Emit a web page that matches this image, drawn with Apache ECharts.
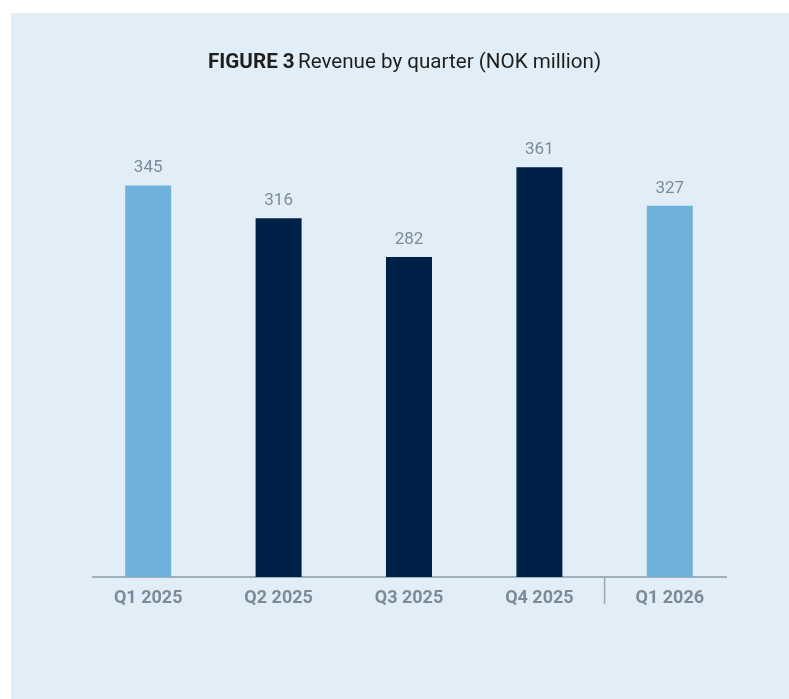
<!DOCTYPE html>
<html><head><meta charset="utf-8">
<script src="https://cdn.jsdelivr.net/npm/echarts@6/dist/echarts.min.js"></script>
<style>html,body{margin:0;padding:0;background:#fff;}#c{width:789px;height:699px;}</style>
</head><body><div id="c"></div>
<script>
const categories = ['Q1 2025', 'Q2 2025', 'Q3 2025', 'Q4 2025', 'Q1 2026'];
const revenue = [345, 316, 282, 361, 327];

const LIGHT = '#6EB2DC', DARK = '#002147', GREY = '#7B8C98';
const chart = echarts.init(document.getElementById('c'), null, {renderer: 'canvas'});
const baseGraphics = [
  {type: 'rect', z: -10, shape: {x: 11, y: 13, width: 789, height: 700}, style: {fill: '#E1EEF7'}},
  {type: 'text', left: 208, top: 52, style: {
    rich: {b: {fontWeight: 'bold', fontSize: 20.6, fill: '#1e1e1e', fontFamily: 'Roboto'},
           n: {fontSize: 20.6, fill: '#1e1e1e', fontFamily: 'Roboto'}},
    text: '{b|FIGURE 3} {n|Revenue by quarter (NOK million)}'}}
];
chart.setOption({
  backgroundColor: '#ffffff',
  animation: false,
  graphic: baseGraphics,
  grid: {left: 83, right: 54, top: 123, bottom: 122},
  xAxis: {
    type: 'category', data: categories, boundaryGap: true,
    axisLine: {show: false},
    axisTick: {show: false},
    axisLabel: {color: GREY, fontSize: 18, fontWeight: 'bold', margin: 12, fontFamily: 'Roboto'}
  },
  yAxis: {type: 'value', min: 0, max: 400, show: false, splitLine: {show: false}},
  series: [{
    type: 'bar', barWidth: 46,
    data: revenue.map((v, i) => ({value: v, itemStyle: {color: categories[i].startsWith('Q1') ? LIGHT : DARK}})),
    label: {show: true, position: 'top', distance: 9, color: GREY, fontSize: 17, fontFamily: 'Roboto'}
  }]
});
// axis baseline and year separator, positioned from the chart's own scales
const p0 = chart.convertToPixel({gridIndex: 0}, [0, 0]);
const pL = chart.convertToPixel({gridIndex: 0}, [categories.length - 1, 0]);
const p3 = chart.convertToPixel({gridIndex: 0}, [3, 0]);
const band = (pL[0] - p0[0]) / (categories.length - 1);
const y0 = p0[1];
chart.setOption({graphic: baseGraphics.concat([
  {type: 'line', shape: {x1: p0[0] - band / 2 + 9, y1: y0, x2: pL[0] + band / 2 - 8, y2: y0},
   style: {stroke: '#8A9CA8', lineWidth: 1.5}},
  {type: 'line', shape: {x1: p3[0] + band / 2, y1: y0, x2: p3[0] + band / 2, y2: y0 + 27},
   style: {stroke: '#9AAAB4', lineWidth: 1.5}}
])});
</script></body></html>
